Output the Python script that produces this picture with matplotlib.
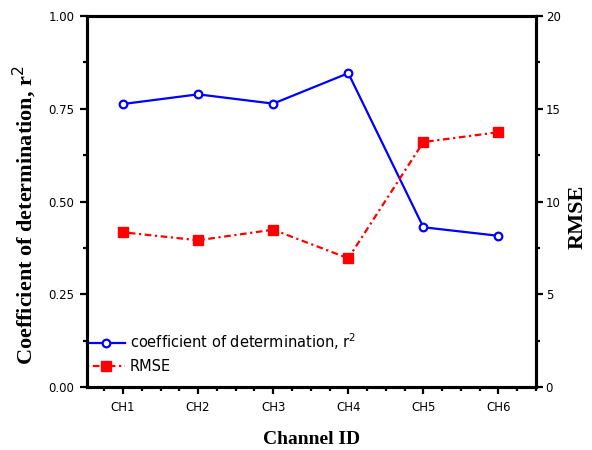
import matplotlib
matplotlib.use("Agg")
import matplotlib.pyplot as plt
from matplotlib.ticker import MultipleLocator, FormatStrFormatter

channels = ["CH1", "CH2", "CH3", "CH4", "CH5", "CH6"]
r2 = [0.763, 0.789, 0.764, 0.846, 0.431, 0.408]
rmse = [8.35, 7.92, 8.49, 6.95, 13.21, 13.74]

x = list(range(1, len(channels) + 1))

fig = plt.figure(figsize=(5.92, 4.5), dpi=100)
ax = fig.add_axes([87/592, 1-387.3/450, (536-87)/592, (387.3-16)/450])
ax2 = ax.twinx()

l1, = ax.plot(x, r2, color="#0000ff", lw=1.6, marker="o", ms=5.5, mfc="white",
              mec="#0000ff", mew=1.6, label="coefficient of determination, r$^2$")
l2, = ax2.plot(x, rmse, color="#ff0000", lw=1.6, ls=(0, (1, 1.6, 3, 1.6)),
               marker="s", ms=7, mfc="#ff0000", mec="#ff0000", label="RMSE")

ax.set_xlim(0.52, 6.5)
ax.set_ylim(0, 1.0)
ax2.set_ylim(0, 20)

ax.set_xticks(x)
ax.set_xticklabels(channels)
ax.xaxis.set_minor_locator(MultipleLocator(0.25))
ax.yaxis.set_major_locator(MultipleLocator(0.25))
ax.yaxis.set_minor_locator(MultipleLocator(0.125))
ax2.yaxis.set_major_locator(MultipleLocator(5))
ax2.yaxis.set_minor_locator(MultipleLocator(2.5))
ax.yaxis.set_major_formatter(FormatStrFormatter("%.2f"))

for a in (ax, ax2):
    for s in a.spines.values():
        s.set_linewidth(2.2)
    a.tick_params(which="major", direction="out", length=5, width=1.6)
    a.tick_params(which="minor", direction="out", length=3, width=1.6)
    for lab in a.get_xticklabels() + a.get_yticklabels():
        lab.set_fontfamily("DejaVu Sans")
        lab.set_fontsize(8.5)
ax.tick_params(top=False, which="both")
ax.tick_params(axis="x", pad=5)
ax.tick_params(axis="y", pad=4)
ax2.tick_params(axis="y", pad=2)

ax.set_ylabel("Coefficient of determination, r$^2$", fontfamily="Liberation Serif",
              fontweight="bold", fontsize=16, labelpad=7)
ax.yaxis.label.set_y(0.464)
ax.set_xlabel("Channel ID", fontfamily="Liberation Serif", fontweight="bold",
              fontsize=14, labelpad=12)
ax2.set_ylabel("RMSE", fontfamily="Liberation Serif", fontweight="bold",
               fontsize=16, labelpad=5)
ax2.yaxis.label.set_y(0.459)

leg = ax.legend(handles=[l1, l2], loc="lower left", bbox_to_anchor=(0.0, 0.035),
                frameon=False, handlelength=2.6, handletextpad=0.35, borderpad=0,
                borderaxespad=0, labelspacing=0.5,
                prop=dict(family="DejaVu Sans", size=10.5))

fig.savefig("out.png", dpi=100)
